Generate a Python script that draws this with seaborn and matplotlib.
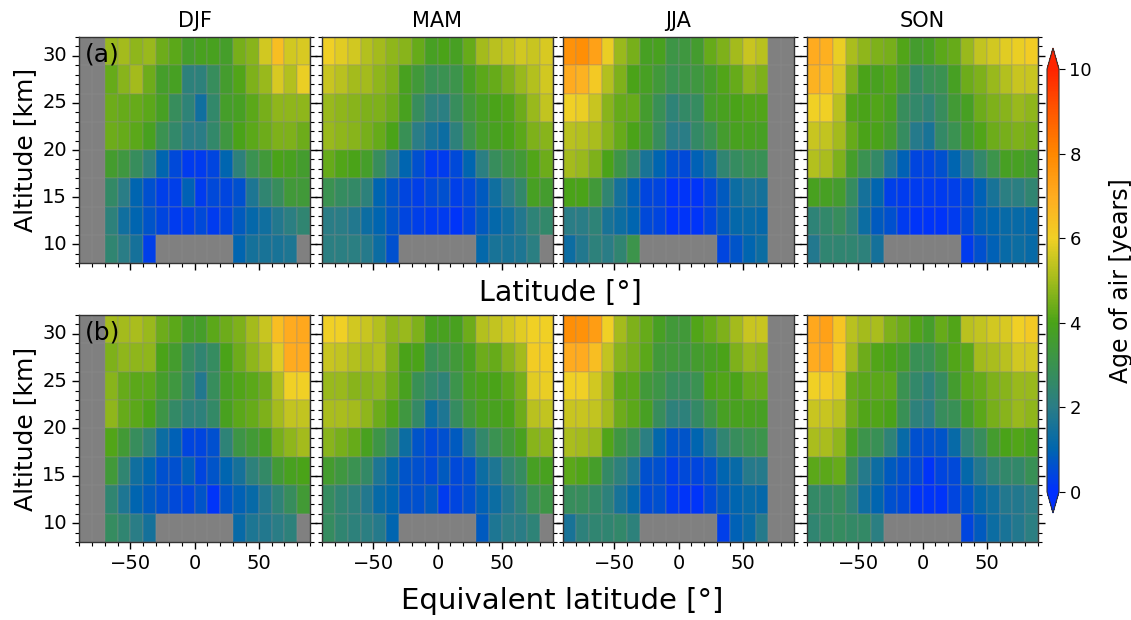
import numpy as np
import pandas as pd
import seaborn as sns
import matplotlib
matplotlib.use("Agg")
import matplotlib.pyplot as plt
from matplotlib.colors import LinearSegmentedColormap
from matplotlib.ticker import FixedLocator, FixedFormatter

nan = np.nan

# grid: 10 deg latitude bins, 3 km altitude bins
lat_edges = [-90, -80, -70, -60, -50, -40, -30, -20, -10, 0, 10, 20, 30, 40, 50, 60, 70, 80, 90]
alt_edges = [8, 11, 14, 17, 20, 23, 26, 29, 32]
seasons = ["DJF", "MAM", "JJA", "SON"]
panel_tags = ["(a)", "(b)"]
lat_ticks = [-50, 0, 50]
alt_ticks = [10, 15, 20, 25, 30]
cbar_ticks = [0, 2, 4, 6, 8, 10]

# age of air [years], rows from top (29-32 km) to bottom (8-11 km)
djf_lat = [
    [nan, nan, 4.9, 5.0, 4.8, 4.9, 4.4, 4.2, 3.7, 3.9, 3.9, 3.7, 4.5, 4.7, 5.6, 6.5, 5.6, 5.7],
    [nan, nan, 4.3, 4.7, 5.0, 4.4, 3.7, 3.8, 2.2, 2.2, 2.8, 3.6, 4.1, 4.6, 4.9, 5.7, 5.2, 5.9],
    [nan, nan, 4.4, 4.3, 4.3, 4.2, 3.8, 2.8, 2.3, 1.4, 2.5, 3.7, 3.8, 4.2, 4.5, 4.8, 4.8, 4.8],
    [nan, nan, 4.4, 4.3, 4.2, 3.9, 3.0, 2.5, 2.0, 2.0, 2.5, 3.3, 4.0, 4.2, 4.4, 4.6, 4.6, 4.4],
    [nan, nan, 3.6, 3.3, 2.8, 2.2, 1.0, 0.5, 0.2, 0.2, 0.4, 1.0, 2.2, 3.0, 3.4, 4.0, 3.9, 3.6],
    [nan, nan, 2.6, 2.0, 1.0, 0.6, 0.3, 0.3, 0.9, 0.2, 0.5, 0.4, 0.6, 1.7, 2.4, 2.8, 3.4, 3.4],
    [nan, nan, 2.2, 1.4, 1.0, 0.7, 0.4, 0.2, 0.3, 0.5, 0.2, 0.4, 0.8, 1.1, 1.4, 1.8, 2.1, 2.4],
    [nan, nan, 2.4, 2.0, 1.5, 0.3, nan, nan, nan, nan, nan, nan, 1.0, 1.5, 1.6, 1.6, 1.7, nan],
]
mam_lat = [
    [6.0, 5.8, 5.6, 5.2, 5.0, 4.8, 4.7, 4.3, 3.8, 4.0, 3.8, 4.3, 5.0, 5.3, 5.4, 5.6, 5.5, 5.7],
    [5.5, 5.3, 5.0, 5.0, 4.8, 4.6, 3.9, 3.4, 2.9, 3.0, 3.1, 3.8, 4.2, 4.3, 4.6, 4.9, 5.2, 5.6],
    [4.9, 4.8, 4.7, 4.6, 4.6, 4.4, 3.9, 2.8, 2.2, 2.1, 2.8, 3.4, 3.8, 4.0, 4.1, 4.4, 4.9, 5.4],
    [4.9, 4.8, 4.7, 4.5, 4.3, 4.0, 2.9, 2.0, 1.6, 1.3, 2.2, 3.1, 3.7, 3.9, 4.0, 4.2, 4.6, 4.7],
    [4.3, 4.1, 4.0, 3.7, 2.8, 2.0, 1.0, 0.6, 0.2, 0.2, 0.5, 1.0, 2.1, 2.8, 3.2, 3.5, 4.1, 4.4],
    [3.0, 2.7, 2.6, 2.2, 1.0, 0.7, 0.4, 0.3, 0.5, 0.6, 0.3, 0.5, 0.8, 1.4, 2.0, 2.5, 3.8, 3.6],
    [2.0, 2.0, 1.8, 1.3, 1.0, 0.7, 0.4, 0.3, 0.2, 0.2, 0.1, 0.4, 0.8, 1.1, 1.4, 1.8, 2.3, 2.5],
    [2.1, 2.1, 2.1, 1.9, 1.3, 0.6, nan, nan, nan, nan, nan, nan, 1.1, 1.6, 1.6, 1.7, 2.1, nan],
]
jja_lat = [
    [7.7, 7.8, 7.3, 5.9, 4.9, 4.5, 3.8, 3.9, 3.2, 3.3, 3.6, 4.3, 4.6, 5.0, 5.5, 5.3, nan, nan],
    [7.0, 6.8, 6.2, 5.2, 4.6, 4.0, 3.8, 3.4, 3.0, 3.2, 3.3, 3.7, 4.1, 4.3, 4.8, 4.6, nan, nan],
    [6.0, 5.9, 5.5, 4.7, 4.3, 4.3, 3.6, 2.9, 2.3, 2.6, 2.7, 3.7, 3.9, 4.0, 4.1, 4.1, nan, nan],
    [5.3, 5.2, 5.1, 4.7, 4.3, 4.0, 3.6, 2.8, 2.0, 2.0, 2.6, 3.0, 3.6, 3.9, 3.9, 3.8, nan, nan],
    [5.0, 4.9, 4.6, 4.0, 3.2, 2.6, 1.6, 1.0, 0.6, 0.5, 0.9, 1.4, 2.4, 2.7, 2.9, 2.9, nan, nan],
    [4.0, 4.0, 3.4, 2.4, 1.5, 0.9, 0.4, 0.4, 0.1, 0.1, 0.1, 0.4, 0.8, 1.3, 1.6, 1.5, nan, nan],
    [2.0, 2.0, 2.3, 1.6, 1.3, 1.0, 0.5, 0.4, 0.1, 0.1, 0.1, 0.4, 0.8, 1.1, 1.2, 1.1, nan, nan],
    [1.3, 1.8, 2.2, 2.0, 2.4, 3.1, nan, nan, nan, nan, nan, nan, 0.4, 0.7, 1.0, 1.3, nan, nan],
]
son_lat = [
    [7.0, 6.9, 5.9, 5.1, 4.8, 4.6, 4.5, 4.1, 3.6, 3.8, 4.2, 4.3, 4.9, 5.4, 5.6, 5.8, 5.9, 6.1],
    [6.8, 6.6, 5.7, 4.6, 4.0, 3.9, 4.1, 3.5, 2.6, 2.9, 3.0, 3.8, 4.4, 4.6, 4.9, 5.2, 5.5, 5.5],
    [6.0, 6.0, 5.3, 4.1, 4.0, 4.1, 3.9, 2.8, 2.5, 2.3, 2.8, 3.5, 3.8, 4.4, 4.6, 4.7, 4.9, 4.8],
    [5.5, 5.4, 5.0, 4.3, 4.0, 4.0, 3.6, 2.7, 1.9, 1.6, 2.6, 3.0, 3.6, 4.1, 4.4, 4.5, 4.6, 4.5],
    [5.2, 5.1, 4.6, 3.7, 3.0, 2.6, 1.7, 0.9, 0.4, 0.4, 0.6, 1.0, 1.8, 2.5, 3.1, 3.8, 3.8, 3.6],
    [3.9, 3.8, 3.6, 2.7, 1.5, 1.0, 0.3, 0.2, 0.2, 0.2, 0.2, 0.3, 0.5, 0.9, 1.6, 2.1, 2.1, 2.4],
    [2.3, 2.5, 2.8, 2.3, 1.3, 0.8, 0.6, 0.2, 0.1, 0.1, 0.1, 0.2, 0.5, 0.9, 1.0, 1.2, 1.2, 1.1],
    [1.8, 2.4, 2.4, 2.4, 2.2, 1.5, nan, nan, nan, nan, nan, nan, 0.2, 0.6, 0.9, 1.2, 1.3, 1.2],
]
djf_eqlat = [
    [nan, nan, 5.0, 5.0, 5.1, 4.9, 4.4, 4.2, 3.7, 3.7, 4.2, 4.4, 4.6, 5.0, 5.5, 6.5, 7.0, 7.1],
    [nan, nan, 4.6, 4.8, 4.8, 4.8, 4.0, 3.6, 2.7, 2.4, 2.7, 4.0, 4.4, 4.8, 5.1, 5.8, 7.0, 7.0],
    [nan, nan, 4.7, 4.3, 4.2, 4.2, 3.7, 3.3, 2.6, 1.8, 2.8, 3.8, 4.1, 4.2, 4.4, 5.2, 6.0, 6.0],
    [nan, nan, 4.8, 4.3, 4.2, 4.0, 3.2, 2.6, 2.2, 2.2, 2.6, 3.9, 4.2, 4.3, 4.6, 5.0, 5.4, 5.4],
    [nan, nan, 4.1, 3.5, 2.8, 2.3, 1.3, 0.9, 0.4, 0.4, 0.6, 2.3, 3.2, 3.5, 3.8, 4.5, 4.8, 5.0],
    [nan, nan, 3.4, 2.4, 1.4, 1.0, 0.6, 0.6, 0.9, 0.4, 0.7, 1.0, 1.5, 2.2, 2.6, 3.5, 3.9, 4.0],
    [nan, nan, 2.4, 1.7, 1.0, 0.8, 0.6, 0.5, 0.4, 0.7, 0.1, 0.7, 0.9, 1.2, 1.8, 2.3, 2.8, 3.5],
    [nan, nan, 2.7, 2.4, 2.0, 1.5, nan, nan, nan, nan, nan, nan, 1.2, 1.7, 1.8, 2.0, 2.2, nan],
]
mam_eqlat = [
    [6.0, 6.0, 5.6, 5.5, 5.2, 4.8, 4.9, 4.6, 3.9, 3.9, 3.9, 4.4, 5.2, 5.4, 5.6, 5.8, 6.0, 6.0],
    [5.5, 5.4, 5.2, 5.1, 5.2, 4.6, 4.0, 4.0, 2.9, 3.1, 3.4, 3.9, 4.4, 4.3, 4.7, 5.0, 6.1, 6.1],
    [4.9, 4.9, 4.7, 4.7, 4.8, 4.4, 3.9, 2.9, 2.5, 2.3, 3.1, 3.8, 4.0, 4.0, 4.2, 4.5, 5.8, 5.9],
    [5.1, 5.1, 5.0, 4.8, 4.4, 4.1, 3.3, 2.6, 1.3, 1.7, 2.7, 3.4, 3.9, 3.9, 4.0, 4.4, 5.3, 5.4],
    [4.7, 4.5, 4.3, 3.9, 3.2, 2.6, 1.3, 0.7, 0.5, 0.6, 0.8, 1.7, 2.5, 3.0, 3.4, 3.9, 4.7, 4.8],
    [3.6, 3.3, 3.0, 2.6, 1.7, 1.1, 0.7, 0.6, 0.5, 0.8, 0.5, 0.6, 1.3, 1.7, 2.4, 2.7, 3.8, 3.9],
    [2.7, 2.4, 2.2, 1.8, 1.2, 1.0, 0.6, 0.6, 0.8, 0.2, 0.4, 0.6, 0.9, 1.3, 1.8, 2.2, 2.9, 3.2],
    [2.7, 2.4, 2.2, 2.1, 1.9, 1.0, nan, nan, nan, nan, nan, nan, 0.8, 1.7, 2.0, 2.0, 2.3, nan],
]
jja_eqlat = [
    [7.8, 7.7, 7.4, 6.0, 5.0, 4.6, 4.3, 3.8, 3.4, 3.4, 4.1, 4.3, 4.6, 5.0, 5.5, 5.5, nan, nan],
    [7.0, 7.0, 6.5, 5.4, 4.7, 4.5, 4.2, 3.4, 3.4, 3.3, 3.6, 3.8, 4.0, 4.6, 4.9, 4.8, nan, nan],
    [6.0, 6.0, 5.6, 5.0, 4.2, 4.2, 3.4, 3.2, 2.8, 2.8, 3.0, 4.0, 4.1, 4.0, 4.3, 4.3, nan, nan],
    [5.5, 5.5, 5.4, 5.0, 4.4, 4.2, 3.8, 2.8, 2.2, 2.2, 2.6, 3.2, 3.8, 3.9, 3.9, 3.8, nan, nan],
    [5.1, 5.0, 4.9, 4.1, 3.3, 2.9, 2.1, 1.1, 0.7, 0.7, 1.0, 1.7, 2.4, 2.8, 3.0, 3.1, nan, nan],
    [4.2, 4.1, 3.7, 2.6, 2.2, 1.7, 0.6, 0.6, 0.3, 0.5, 0.4, 0.6, 1.0, 1.2, 1.9, 1.9, nan, nan],
    [2.8, 2.8, 2.6, 2.2, 1.6, 1.1, 0.5, 0.6, 0.2, 0.1, 0.1, 0.5, 0.8, 1.0, 1.2, 1.1, nan, nan],
    [1.6, 2.2, 2.4, 2.4, 2.5, 2.2, nan, nan, nan, nan, nan, nan, 0.3, 0.9, 1.2, 1.9, nan, nan],
]
son_eqlat = [
    [7.1, 7.3, 6.3, 5.3, 5.0, 5.1, 4.6, 4.4, 4.1, 3.7, 4.3, 4.1, 5.3, 5.4, 5.6, 5.7, 6.0, 6.2],
    [7.0, 7.1, 6.2, 5.0, 4.4, 4.1, 4.0, 3.7, 2.9, 2.9, 3.4, 4.1, 4.2, 5.0, 5.1, 5.3, 5.6, 5.6],
    [6.0, 6.1, 5.8, 4.3, 4.2, 4.2, 4.2, 3.0, 2.5, 2.2, 2.7, 3.6, 4.2, 4.3, 4.6, 4.7, 4.9, 4.9],
    [5.5, 5.5, 5.3, 4.4, 4.1, 4.1, 4.0, 2.9, 2.2, 2.0, 2.8, 2.9, 3.7, 4.2, 4.5, 4.7, 4.9, 4.8],
    [5.1, 5.1, 4.8, 3.8, 3.1, 2.9, 2.3, 1.2, 0.6, 0.6, 0.7, 1.2, 2.3, 2.8, 3.6, 4.0, 4.1, 3.9],
    [4.2, 4.2, 4.3, 2.8, 1.9, 1.3, 0.8, 0.6, 0.5, 0.1, 0.4, 0.5, 1.1, 1.8, 2.3, 2.5, 2.5, 2.9],
    [2.6, 2.6, 2.8, 2.3, 1.4, 1.0, 0.6, 0.5, 0.1, 0.1, 0.1, 0.4, 0.7, 1.1, 1.4, 1.8, 1.8, 2.0],
    [2.4, 2.6, 2.7, 2.6, 2.6, 2.1, nan, nan, nan, nan, nan, nan, 0.4, 0.8, 1.3, 1.6, 1.8, 2.1],
]

rows = [[djf_lat, mam_lat, jja_lat, son_lat],
        [djf_eqlat, mam_eqlat, jja_eqlat, son_eqlat]]

# colour map blue -> teal -> green -> yellow -> orange -> red
cmap = LinearSegmentedColormap.from_list("aoa", [
    (0.0, "#0030ff"), (0.1, "#0066ae"), (0.2, "#2a7d86"), (0.3, "#3a9250"),
    (0.4, "#4aa318"), (0.5, "#a2bb1c"), (0.6, "#f0d025"), (0.7, "#ffac20"),
    (0.8, "#ff8800"), (0.9, "#ff5800"), (1.0, "#ff2400")])

sns.set_style("ticks")
plt.rcParams['font.family'] = ['DejaVu Sans']
plt.rcParams.update({'text.color': 'black', 'axes.labelcolor': 'black',
                     'xtick.color': 'black', 'ytick.color': 'black'})

fig = plt.figure(figsize=(11.31, 6.2), dpi=100)

lefts = [79, 322, 563, 807]
W, H = 1131, 620
row_tops = [37, 315]
row_h = [226, 227]
pw = 231

lat_c = [(a + b) / 2 for a, b in zip(lat_edges[:-1], lat_edges[1:])]
alt_c = [(a + b) / 2 for a, b in zip(alt_edges[:-1], alt_edges[1:])][::-1]
dlat = lat_edges[1] - lat_edges[0]
dalt = alt_edges[1] - alt_edges[0]

# map lat / alt values to heatmap cell coordinates
xpos = lambda v: (v - lat_edges[0]) / dlat
ypos = lambda v: (alt_edges[-1] - v) / dalt

for r in range(2):
    for c in range(4):
        ax = fig.add_axes([lefts[c] / W, 1 - (row_tops[r] + row_h[r]) / H, pw / W, row_h[r] / H])
        df = pd.DataFrame(rows[r][c], index=alt_c, columns=lat_c)
        sns.heatmap(df, ax=ax, cmap=cmap, vmin=0, vmax=10, cbar=False,
                    linewidths=0.3, linecolor=(0.55, 0.55, 0.55, 0.2))
        ax.set_facecolor("#808080")
        ax.set_xlim(0, len(lat_c))
        ax.set_ylim(len(alt_c), 0)

        ax.xaxis.set_major_locator(FixedLocator([xpos(v) for v in lat_ticks]))
        ax.xaxis.set_minor_locator(FixedLocator([xpos(v) for v in lat_edges]))
        ax.yaxis.set_major_locator(FixedLocator([ypos(v) for v in alt_ticks]))
        ax.yaxis.set_minor_locator(FixedLocator([ypos(v) for v in range(alt_edges[0], alt_edges[-1] + 1)]))
        ax.xaxis.set_major_formatter(FixedFormatter([str(v).replace("-", "\u2212") for v in lat_ticks]))
        ax.yaxis.set_major_formatter(FixedFormatter([str(v) for v in alt_ticks]))
        ax.tick_params(which="both", direction="out", left=True, right=True, bottom=True,
                       top=False, labelsize=14, rotation=0, color="black")
        ax.tick_params(which="major", length=5, width=1)
        ax.tick_params(which="minor", length=3, width=0.8)
        ax.set_xlabel("")
        if r == 0:
            ax.tick_params(labelbottom=False)
            ax.set_title(seasons[c], fontsize=15, pad=7)
        if c == 0:
            ax.set_ylabel("Altitude [km]", fontsize=18, labelpad=4)
            ax.text(0.026, 0.975, panel_tags[r], transform=ax.transAxes, va="top", ha="left", fontsize=18)
        else:
            ax.set_ylabel("")
            ax.tick_params(labelleft=False)
        for s in ax.spines.values():
            s.set_visible(True)
            s.set_color("#333333")
            s.set_linewidth(1)

fig.text(560 / W, 1 - 293 / H, "Latitude [°]", ha="center", va="center", fontsize=20.5)
fig.text(562 / W, 1 - 601 / H, "Equivalent latitude [°]", ha="center", va="center", fontsize=21)

cax = fig.add_axes([1047 / W, 1 - 513 / H, 12 / W, 465 / H])
cb = fig.colorbar(ax.collections[0], cax=cax, extend="both")
cb.set_ticks(cbar_ticks)
cb.ax.tick_params(labelsize=13, length=4, color="black")
cb.set_label("Age of air [years]", fontsize=17, labelpad=12)
cb.outline.set_edgecolor("#333333")

fig.savefig("out.png", dpi=100)
